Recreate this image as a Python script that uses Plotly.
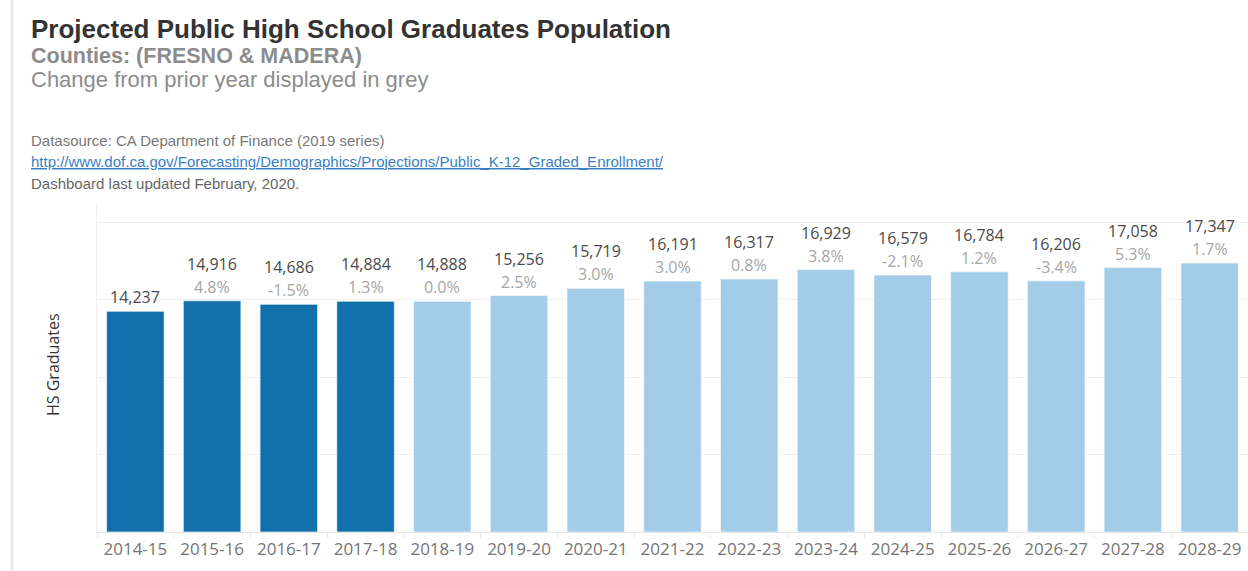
import plotly.graph_objects as go

# School years and projected public high school graduates (Fresno & Madera)
years = ["2014-15", "2015-16", "2016-17", "2017-18", "2018-19", "2019-20", "2020-21",
         "2021-22", "2022-23", "2023-24", "2024-25", "2025-26", "2026-27", "2027-28", "2028-29"]
graduates = [14237, 14916, 14686, 14884, 14888, 15256, 15719,
             16191, 16317, 16929, 16579, 16784, 16206, 17058, 17347]
pct_change = [None, 4.8, -1.5, 1.3, 0.0, 2.5, 3.0,
              3.0, 0.8, 3.8, -2.1, 1.2, -3.4, 5.3, 1.7]
series_type = ["Actual"] * 4 + ["Projected"] * 11

W, H = 1248, 571
M_L, M_R, M_T, M_B = 97, 0, 203, 39
PLOT_W = W - M_L - M_R
PLOT_H = H - M_T - M_B

def px_x(x):
    return (x - M_L) / PLOT_W

def px_y(y):
    return (H - M_B - y) / PLOT_H

COLOR_MAP = {"Actual": "#1170aa", "Projected": "#a3cce9"}
LABEL_FONT = "'Open Sans', 'Noto Sans', sans-serif"
HEAD_FONT = "'Liberation Sans', Arial, sans-serif"

fig = go.Figure()
fig.add_trace(go.Bar(
    x=years,
    y=graduates,
    marker=dict(color=[COLOR_MAP[s] for s in series_type],
                line=dict(color="rgba(255,255,255,0.6)", width=1)),
    hoverinfo="x+y",
    showlegend=False,
))

annotations = []
for yr, val, pct in zip(years, graduates, pct_change):
    if pct is None:
        annotations.append(dict(x=yr, y=val, xref="x", yref="y", text=f"{val:,}",
                                showarrow=False, yanchor="middle", yshift=14,
                                font=dict(family=LABEL_FONT, size=16, color="#4a4a4a")))
    else:
        annotations.append(dict(x=yr, y=val, xref="x", yref="y", text=f"{pct:.1f}%",
                                showarrow=False, yanchor="middle", yshift=14,
                                font=dict(family=LABEL_FONT, size=16, color="#a6a6a6")))
        annotations.append(dict(x=yr, y=val, xref="x", yref="y", text=f"{val:,}",
                                showarrow=False, yanchor="middle", yshift=37,
                                font=dict(family=LABEL_FONT, size=16, color="#4a4a4a")))

# Header block
header = [
    ("<b>Projected Public High School Graduates Population</b>", 29, 26, "#333333"),
    ("<b>Counties: (FRESNO & MADERA)</b>", 56, 21.5, "#8c8c8c"),
    ("Change from prior year displayed in grey", 80, 22, "#8c8c8c"),
    ("Datasource: CA Department of Finance (2019 series)", 141, 15, "#777777"),
    ("<a href='http://www.dof.ca.gov/Forecasting/Demographics/Projections/Public_K-12_Graded_Enrollment/' "
     "style='color:#3a7fc4'><u>http://www.dof.ca.gov/Forecasting/Demographics/Projections/Public_K-12_Graded_Enrollment/</u></a>",
     161, 15, "#3a7fc4"),
    ("Dashboard last updated February, 2020.", 183, 15, "#666666"),
]
for text, y, size, color in header:
    annotations.append(dict(x=px_x(29), y=px_y(y), xref="paper", yref="paper", text=text,
                            showarrow=False, xanchor="left", yanchor="middle",
                            font=dict(family=HEAD_FONT, size=size, color=color)))

# Axis title
annotations.append(dict(x=px_x(53), y=px_y(365), xref="paper", yref="paper",
                        text="HS Graduates", textangle=-90, showarrow=False,
                        xanchor="center", yanchor="middle",
                        font=dict(family=LABEL_FONT, size=16, color="#333333")))

fig.update_layout(
    width=W, height=H,
    margin=dict(l=M_L, r=M_R, t=M_T, b=M_B),
    paper_bgcolor="white", plot_bgcolor="white",
    bargap=0.25,
    annotations=annotations,
    shapes=[dict(type="line", xref="paper", yref="paper",
                 x0=px_x(12), x1=px_x(12), y0=px_y(0), y1=px_y(H),
                 line=dict(color="#ebebeb", width=3))],
    xaxis=dict(type="category", showgrid=False, ticks="outside", tickson="boundaries",
               ticklen=5, tickcolor="#e6e6e6", showline=True, linecolor="#e6e6e6",
               ticklabelstandoff=2,
               tickfont=dict(family=LABEL_FONT, size=17, color="#757575")),
    yaxis=dict(range=[0, 21226], dtick=5000, showticklabels=False, showgrid=True,
               gridcolor="#f0f0f0", zeroline=False, showline=True, linecolor="#efefef",
               ticks=""),
)

fig.write_html("out.html")
